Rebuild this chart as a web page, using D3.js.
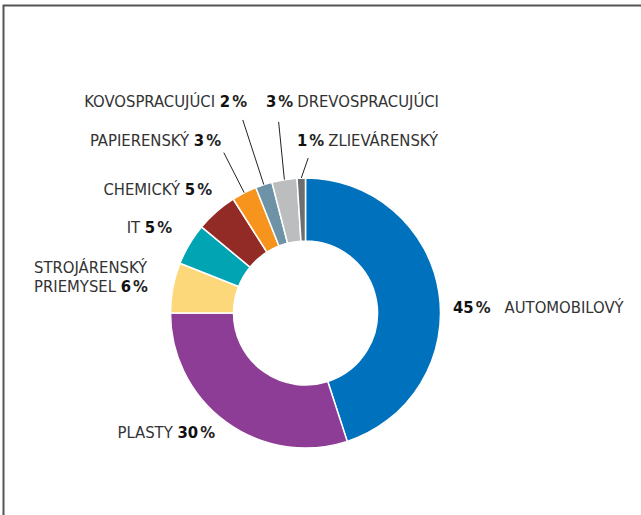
<!DOCTYPE html>
<html>
<head>
<meta charset="utf-8">
<script src="https://cdn.jsdelivr.net/npm/d3@7"></script>
<style>
  body { margin: 0; background: #fff; }
  svg text { font-family: "DejaVu Sans Condensed", "Liberation Sans Narrow", "Arial Narrow", sans-serif; font-size: 16.5px; }
</style>
</head>
<body>
<div id="main"></div>
<script>
// data, clockwise from 12 o'clock
const sectors = ['AUTOMOBILOVÝ', 'PLASTY', 'STROJÁRENSKÝ PRIEMYSEL', 'IT', 'CHEMICKÝ', 'PAPIERENSKÝ', 'KOVOSPRACUJÚCI', 'DREVOSPRACUJÚCI', 'ZLIEVÁRENSKÝ'];
const shares = [45, 30, 6, 5, 5, 3, 2, 3, 1];
const colors = ['#0071bc', '#8e3d96', '#fdd87b', '#00a4b3', '#922a25', '#f7941e', '#6e93a7', '#bcbdbf', '#6d6e70'];

// label layout: x, baseline y, anchor, value first or not, leader line (outer radius, angle offset in deg)
const labelLayout = [
  { x: 453, y: 313, anchor: 'start', valueFirst: true, gap: 14 },
  { x: 215, y: 438, anchor: 'end' },
  { x: 34, y: 273, anchor: 'start', twoLines: ['STROJÁRENSKÝ', 'PRIEMYSEL'], lineGap: 19 },
  { x: 172, y: 233, anchor: 'end' },
  { x: 212, y: 195, anchor: 'end' },
  { x: 221, y: 146, anchor: 'end', leader: [180, 0] },
  { x: 247, y: 107, anchor: 'end', leader: [203, 0] },
  { x: 266, y: 107, anchor: 'start', valueFirst: true, leader: [193, 1] },
  { x: 297, y: 146, anchor: 'start', valueFirst: true, leader: [155, 2.8] }
];

const w = 641;
const h = 515;
const cx = 305.5;
const cy = 313;
const outerR = 135;
const innerR = 72;

const svg = d3.select('#main').
  append('svg').
  attr('width', w).
  attr('height', h);

// frame (top and left edge only)
svg.append('path').
  attr('d', 'M3.5,515 L3.5,5.5 L641,5.5').
  attr('fill', 'none').
  attr('stroke', '#555').
  attr('stroke-width', 2);

const data = sectors.map((s, i) => ({ name: s, value: shares[i], color: colors[i], layout: labelLayout[i] }));

const pie = d3.pie().
  sort(null).
  value(d => d.value);

const arc = d3.arc().
  innerRadius(innerR).
  outerRadius(outerR);

const arcs = pie(data);

const g = svg.append('g').
  attr('transform', `translate(${cx},${cy})`);

g.selectAll('path.slice').
  data(arcs).
  enter().
  append('path').
  attr('class', 'slice').
  attr('d', arc).
  attr('fill', d => d.data.color).
  attr('stroke', '#fff').
  attr('stroke-width', 1.5);

// leader lines
const toRad = Math.PI / 180;
g.selectAll('line.leader').
  data(arcs.filter(d => d.data.layout.leader)).
  enter().
  append('line').
  attr('class', 'leader').
  attr('x1', d => {
    const a = (d.startAngle + d.endAngle) / 2;
    return outerR * Math.sin(a);
  }).
  attr('y1', d => {
    const a = (d.startAngle + d.endAngle) / 2;
    return -outerR * Math.cos(a);
  }).
  attr('x2', d => {
    const a = (d.startAngle + d.endAngle) / 2 + d.data.layout.leader[1] * toRad;
    return d.data.layout.leader[0] * Math.sin(a);
  }).
  attr('y2', d => {
    const a = (d.startAngle + d.endAngle) / 2 + d.data.layout.leader[1] * toRad;
    return -d.data.layout.leader[0] * Math.cos(a);
  }).
  attr('stroke', '#222').
  attr('stroke-width', 1);

// labels
data.forEach(d => {
  const L = d.layout;
  const t = svg.append('text').
    attr('x', L.x).
    attr('y', L.y).
    attr('text-anchor', L.anchor).
    attr('fill', '#333');

  const addValue = (sel) => {
    sel.append('tspan').attr('font-weight', 'bold').attr('fill', '#111').text(d.value);
    sel.append('tspan').attr('fill', '#222').attr('font-weight', 'bold').attr('dx', 2).text('%');
  };

  if (L.twoLines) {
    t.append('tspan').text(L.twoLines[0]);
    const t2 = svg.append('text').
      attr('x', L.x).
      attr('y', L.y + L.lineGap).
      attr('text-anchor', L.anchor).
      attr('fill', '#333');
    t2.append('tspan').text(L.twoLines[1] + ' ');
    addValue(t2);
  } else if (L.valueFirst) {
    addValue(t);
    t.append('tspan').attr('dx', L.gap || 4).text(d.name);
  } else {
    t.append('tspan').text(d.name + ' ');
    addValue(t);
  }
});
</script>
</body>
</html>
